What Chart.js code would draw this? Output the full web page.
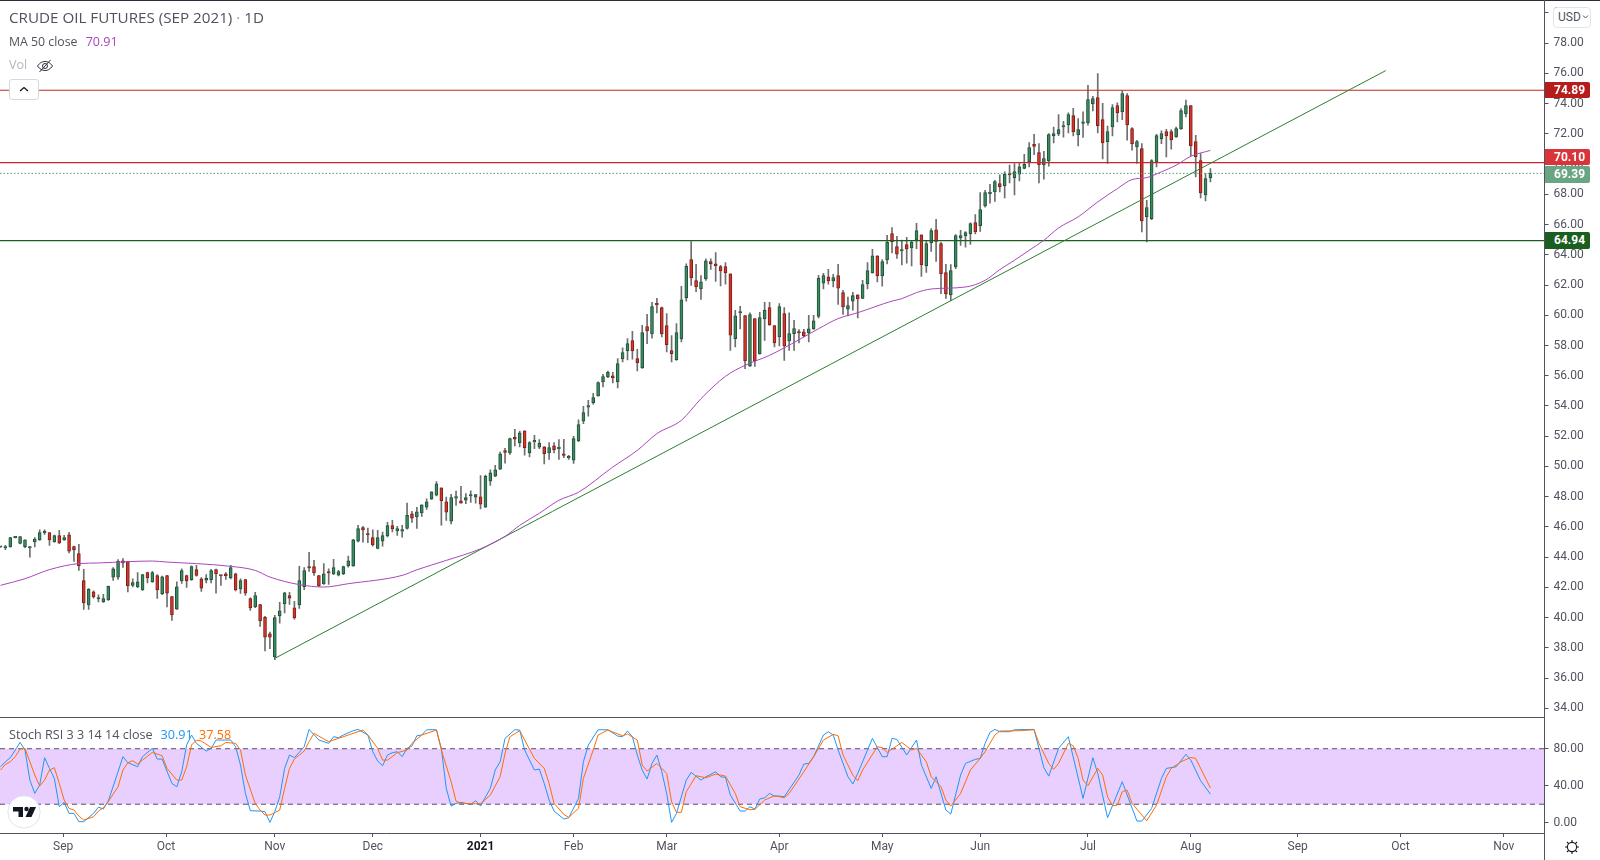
<!DOCTYPE html>
<html><head><meta charset="utf-8"><title>Crude Oil Futures</title>
<script src="https://cdn.jsdelivr.net/npm/chart.js@4/dist/chart.umd.min.js"></script>
<style>
html,body{margin:0;padding:0;background:#fff;width:1600px;height:860px;overflow:hidden;font-family:"Open Sans",sans-serif;}
canvas{position:absolute;left:0;display:block;}
.t{position:absolute;white-space:nowrap;line-height:1;color:#50535e;}
.line{position:absolute;background:#50535e;}
.tag{position:absolute;left:1545px;width:45px;height:16.500px;line-height:16.500px;color:#fff;font-weight:700;font-size:12px;font-family:Roboto,sans-serif;text-indent:9px;border-radius:0 2px 2px 0;}
</style></head><body>
<canvas id="main" style="top:0" width="1600" height="717"></canvas>
<canvas id="stoch" style="top:717px" width="1600" height="143"></canvas>
<div class="line" style="left:0;top:0;width:1600px;height:1px;background:#2a2e39"></div>
<div class="line" style="left:0;top:717px;width:1545px;height:1px"></div>
<div class="line" style="left:1544px;top:0;width:1px;height:860px"></div>
<div class="t" style="left:9px;top:10px;font-size:15.200px;">CRUDE OIL FUTURES (SEP 2021)<span style="color:#9598a1"> · </span>1D</div>
<div class="t" style="left:9px;top:36px;font-size:12.300px;">MA 50 close <span style="color:#ab47bc;margin-left:5px;font-size:12.600px">70.91</span></div>
<div class="t" style="left:9px;top:59px;font-size:12.600px;color:#b2b5be">Vol</div>
<svg style="position:absolute;left:36px;top:58px" width="18" height="16" viewBox="0 0 18 16" fill="none" stroke="#2a2e39" stroke-width="1"><path d="M1.500 8C4 4.500 6.500 3.500 9 3.500S14 4.500 16.500 8C14 11.500 11.500 12.500 9 12.500S4 11.500 1.500 8Z"/><circle cx="9" cy="8" r="2.500"/><path d="M3.500 14L14.500 2"/></svg>
<div style="position:absolute;left:9px;top:79px;width:28px;height:19px;background:#fff;border:1px solid #d6d8e0;border-radius:3px;"><svg style="position:absolute;left:9px;top:6px" width="10" height="7" fill="none" stroke="#131722" stroke-width="1.300"><path d="M1 5L5 1.500L9 5"/></svg></div>
<div style="position:absolute;left:1553px;top:7px;width:36px;height:19px;background:#fff;border:1px solid #e0e3eb;border-radius:4px;"></div>
<div class="t" style="left:1558px;top:11px;font-size:12px;font-family:Roboto,sans-serif">USD</div>
<svg style="position:absolute;left:1582px;top:14px" width="7" height="6" fill="none" stroke="#50535e" stroke-width="1"><path d="M1 1.500L3.500 4L6 1.500"/></svg>
<div class="t" style="left:9px;top:729px;font-size:12.600px;">Stoch RSI 3 3 14 14 close</div>
<div class="t" style="left:160.500px;top:729px;font-size:12.600px;color:#2196f3">30.91</div>
<div class="t" style="left:199px;top:729px;font-size:12.600px;color:#ff6d00">37.58</div>
<svg style="position:absolute;left:7px;top:795px" width="34" height="34" viewBox="0 0 34 34"><circle cx="17" cy="17" r="16.200" fill="#fff" stroke="#e0e3eb"/><path d="M6 12h10v10h-4.500v-5.500H6Z" fill="#131722"/><circle cx="19.500" cy="14" r="2.200" fill="#131722"/><path d="M23 12h6l-4.500 10H18.500Z" fill="#131722"/></svg>
<svg style="position:absolute;left:1564px;top:839px" width="16" height="16" viewBox="0 0 16 16" fill="none" stroke="#131722" stroke-width="1.100"><circle cx="8" cy="8" r="4.600"/><path d="M8 1v2.400M8 12.600V15M1 8h2.400M12.600 8H15M3 3l1.700 1.700M11.300 11.300L13 13M13 3l-1.700 1.700M4.700 11.300L3 13"/></svg>
<script>
const opens=[44.65,44.60,44.67,45.28,44.91,44.67,44.60,45.00,45.13,45.60,
45.62,45.00,45.42,45.13,45.48,44.69,44.23,42.44,40.83,41.71,
41.23,41.03,41.16,42.68,42.68,43.76,43.70,42.13,42.02,41.82,
42.97,42.35,42.77,41.56,42.77,41.38,40.56,42.42,42.77,42.51,
43.17,42.57,42.48,42.51,43.17,42.77,42.90,42.62,42.90,41.89,
42.51,41.25,40.70,40.85,40.01,38.93,37.39,40.10,40.90,41.45,
40.65,40.83,42.04,43.32,43.37,42.77,42.22,43.04,42.88,42.81,
42.88,43.41,43.41,45.06,45.95,45.55,45.29,44.58,45.06,45.40,
46.08,45.73,45.72,45.90,46.87,46.65,46.93,47.31,47.84,48.10,
48.59,47.66,46.38,47.90,47.73,47.77,48.04,47.97,47.99,47.31,
49.03,49.36,49.82,51.04,50.89,51.92,51.55,52.36,50.89,51.62,
51.28,51.30,50.89,51.37,51.18,50.84,50.56,50.42,51.68,53.00,
53.92,54.20,54.66,55.59,55.92,56.00,55.59,57.11,57.64,58.32,
57.13,56.51,59.25,58.76,60.73,60.51,59.32,57.66,57.07,58.43,
61.14,63.68,62.29,61.74,62.40,63.55,63.41,63.22,63.22,62.75,
58.45,60.15,59.98,56.64,59.78,57.44,59.76,60.51,59.32,58.57,
60.11,58.30,58.79,58.87,58.91,58.83,59.09,59.93,62.13,62.55,
62.27,62.62,61.50,60.41,60.94,61.36,61.12,62.07,62.80,63.94,
62.60,63.66,65.40,64.54,64.25,64.67,64.45,64.98,65.33,63.26,
64.78,65.66,64.74,62.82,61.34,63.20,65.11,65.25,65.40,66.13,
65.91,67.23,68.03,68.16,68.71,68.58,69.33,69.09,69.33,69.71,
70.15,71.31,70.76,69.95,70.21,71.87,72.00,72.46,72.60,73.21,
71.93,72.70,72.73,73.99,74.40,72.95,71.49,72.46,73.88,73.46,
74.54,72.35,71.14,71.03,66.51,66.40,70.15,71.67,72.15,72.15,
71.80,72.33,73.32,73.88,71.49,70.23,67.96,69.09];
const highs=[44.72,44.78,45.30,45.30,45.35,45.15,44.69,45.29,45.81,45.81,
45.62,45.46,45.77,45.44,45.64,44.73,44.85,43.19,41.91,41.76,
41.51,41.54,42.09,43.30,43.83,43.90,43.72,42.57,42.97,42.86,
43.01,43.06,42.84,42.75,42.79,41.40,42.37,43.23,42.81,43.43,
43.45,42.64,42.84,43.19,43.21,42.79,42.97,43.45,42.95,42.57,
42.53,41.31,41.67,40.87,40.08,39.04,40.15,41.00,41.67,41.67,
41.07,43.39,43.30,44.31,43.79,42.79,43.57,43.23,43.85,43.12,
43.41,44.07,45.17,46.10,46.04,45.92,45.81,45.77,45.66,46.30,
46.43,46.04,46.10,47.57,47.02,47.29,47.46,47.86,48.32,48.99,
48.59,47.97,48.15,48.37,48.68,48.21,48.39,48.15,49.40,49.42,
49.78,50.07,50.95,51.20,51.88,52.45,52.34,52.36,51.64,52.06,
51.77,51.32,51.57,51.57,51.77,51.79,50.73,51.99,53.09,53.98,
54.37,54.84,55.59,56.09,56.31,56.23,57.13,57.84,58.45,58.94,
57.75,59.34,60.07,60.86,61.12,60.55,60.11,58.65,59.45,61.91,
63.41,64.87,63.37,62.62,63.74,63.74,64.14,63.30,63.48,62.75,
60.33,60.59,59.98,60.17,59.78,60.20,60.86,60.86,59.32,60.77,
60.51,60.17,59.67,59.05,59.07,59.99,59.99,62.64,62.78,63.04,
62.71,63.37,61.65,61.21,61.52,61.36,62.31,63.48,64.36,63.94,
63.68,65.29,65.80,65.22,64.98,65.16,64.96,66.08,65.33,64.94,
65.73,66.35,64.83,63.37,63.35,65.34,65.62,65.53,66.11,66.66,
68.11,68.27,68.66,68.93,69.30,69.49,69.93,70.04,70.10,70.65,
71.43,71.98,71.36,70.85,72.02,72.46,73.28,72.84,73.39,73.70,
73.01,73.46,75.22,74.49,75.99,74.03,72.51,73.94,74.05,74.85,
74.67,72.42,71.58,71.36,67.61,70.30,71.98,72.20,72.31,72.29,
72.46,73.68,74.23,73.88,71.91,70.70,69.37,69.71];
const lows=[44.65,44.49,44.66,45.27,44.87,44.62,44.00,44.67,45.11,45.50,
44.78,44.98,44.89,45.11,44.27,43.72,43.12,40.54,40.54,41.29,
41.03,41.00,41.14,42.46,42.53,43.32,41.69,42.02,41.98,41.80,
42.29,42.33,41.27,41.51,40.70,39.81,40.54,42.26,42.00,42.46,
42.73,41.73,42.29,42.29,41.62,42.13,42.53,42.55,41.76,41.60,
41.47,40.48,40.65,39.42,37.79,37.94,37.21,39.62,40.30,40.87,
39.90,40.61,41.84,43.06,42.79,42.04,42.20,42.20,42.84,42.75,
42.84,43.34,43.39,45.00,44.98,44.95,44.73,44.54,44.73,45.33,
45.66,45.44,45.32,45.85,46.30,45.90,46.69,47.15,47.82,48.04,
46.12,46.43,46.19,47.42,47.57,47.53,47.62,47.57,47.18,47.29,
48.74,49.32,49.78,50.22,50.80,51.35,51.29,50.75,50.62,51.17,
51.17,50.16,50.47,50.89,50.47,50.58,50.47,50.20,51.64,52.83,
53.32,54.11,54.64,55.26,55.87,55.52,55.19,56.91,57.04,57.09,
56.31,56.49,58.12,58.48,60.15,58.57,57.57,56.91,57.02,58.23,
60.94,61.98,61.56,61.05,62.31,63.04,62.24,61.94,62.05,57.68,
57.90,59.09,56.47,56.62,56.62,57.42,58.34,59.33,57.90,57.97,
57.02,57.68,57.68,58.17,58.56,58.23,59.07,59.82,61.74,62.05,
61.87,60.72,60.06,59.95,60.33,59.82,61.10,61.74,62.78,62.20,
61.92,63.39,64.12,63.77,63.33,63.44,63.26,64.41,62.57,62.84,
64.23,63.57,61.43,61.12,60.97,63.09,64.63,64.50,64.69,65.38,
65.55,67.16,67.41,67.54,68.16,67.76,68.76,67.96,68.89,69.68,
69.82,70.63,68.76,69.00,69.86,71.40,71.89,71.78,72.07,71.87,
71.21,71.76,72.57,73.52,72.07,70.35,70.04,71.87,72.79,72.95,
71.58,70.92,70.04,65.51,64.85,66.33,69.82,71.36,70.48,70.99,
71.76,72.29,73.12,70.54,69.15,67.77,67.57,68.82];
const closes=[44.70,44.65,45.29,45.30,45.35,45.15,44.69,45.20,45.62,45.63,
45.13,45.42,44.93,45.29,44.40,44.47,43.41,40.96,41.87,41.36,
41.29,41.25,42.06,43.23,43.72,43.61,42.09,42.31,42.37,42.84,
42.62,42.97,41.82,42.70,41.62,40.17,42.04,43.10,42.42,43.37,
42.79,41.95,42.59,43.10,42.88,42.75,42.75,43.30,41.82,42.44,
41.62,40.63,41.45,39.77,38.71,38.71,39.99,40.45,41.64,41.29,
39.97,42.44,43.10,43.28,42.95,42.09,42.90,42.95,43.30,43.04,
43.37,43.76,45.15,45.88,45.79,45.46,44.80,45.29,45.42,46.08,
45.86,45.88,45.81,46.76,46.58,47.00,47.46,47.66,48.32,48.85,
47.71,46.98,47.93,47.99,47.57,47.93,48.13,48.13,47.51,49.34,
49.58,49.78,50.84,50.93,51.84,51.81,52.23,51.24,51.57,51.66,
51.55,50.84,51.24,51.09,51.24,50.73,50.64,51.84,52.76,53.56,
53.97,54.55,55.54,55.94,56.23,55.85,56.80,57.53,58.12,57.64,
56.84,58.85,58.96,60.57,60.69,58.76,58.06,57.46,58.85,61.03,
63.24,62.47,61.87,62.22,63.61,63.39,63.26,62.93,62.80,58.69,
59.97,60.22,56.98,60.04,56.98,59.84,60.33,59.36,58.17,60.57,
57.97,58.79,59.12,58.83,58.63,59.11,59.64,62.44,62.62,62.27,
62.49,61.80,60.55,60.64,61.30,61.08,62.03,62.95,63.94,62.60,
63.55,64.85,64.85,64.05,64.34,64.39,64.85,65.60,63.33,64.74,
65.60,64.89,62.73,61.41,62.95,65.27,65.27,65.47,66.06,65.51,
66.99,68.11,68.11,68.84,68.49,69.35,69.28,69.51,69.83,69.99,
71.10,71.18,69.95,70.37,71.96,72.02,72.28,72.55,73.28,72.13,
72.28,72.75,74.27,74.34,72.55,71.40,72.15,73.74,73.39,74.67,
72.60,71.34,71.49,66.24,67.12,70.23,71.89,72.02,71.87,71.60,
72.35,73.54,73.88,71.21,70.48,68.10,69.04,69.39];

const maBars=[0,5,10,16,20,26,31,34,40,47,52,55,61,66,71,82,85,91,98,103,106,110,114,118,125,130,134,139,143,148,152,157,163,167,171,175,182,184,187,190,197,201,204,207,210,213,216,220,224,228,231,234,237,240,243,247];
const maValues=[42.13,42.57,43.17,43.57,43.61,43.70,43.74,43.67,43.57,43.39,43.12,42.68,42.18,42.02,42.24,42.79,43.16,43.78,44.55,45.37,46.10,46.90,47.76,48.29,49.96,51.06,52.17,53.05,54.48,55.96,56.69,57.35,58.38,59.11,59.78,60.17,60.94,61.10,61.50,61.74,61.87,62.31,63.02,63.64,64.30,64.96,65.78,66.51,67.50,68.38,68.98,69.11,69.49,69.93,70.52,70.91];

const trendBars=[56,282.8];
const trendPrices=[37.3,76.19];
const redLevels=[74.89,70.10];
const greenLevel=64.94;
const lastPrice=69.39;
const tagValues=[64.94,69.39,70.10,74.89];
const priceTicks=[34,36,38,40,42,44,46,48,50,52,54,56,58,60,62,64,66,68,70,72,74,76,78,80];
const stochTicks=[0,40,80];
const monthBars=[12.8,33.8,56,76,98,117,136,159,180,200,222,243,264.8,285.8,306.9];
const monthLabels=['Sep','Oct','Nov','Dec','2021','Feb','Mar','Apr','May','Jun','Jul','Aug','Sep','Oct','Nov'];

const kBars=[0,1,2,4,5,6,7,8,9,10,11,12,13,14,15,16,17,19,20,21,22,24,25,26,28,29,31,32,33,35,36,37,38,39,40,42,43,44,46,47,48,49,50,51,53,54,55,56,57,58,59,60,62,63,65,67,68,69,70,72,73,75,76,77,78,79,80,81,82,83,84,85,86,87,89,90,91,92,93,94,96,97,98,100,101,102,103,105,106,107,109,110,111,112,
113,115,116,118,119,120,122,124,126,127,128,129,130,131,132,133,134,135,136,137,138,140,141,143,144,146,147,148,149,151,152,153,154,155,156,157,158,159,160,163,164,165,166,168,169,170,171,173,174,175,178,180,181,182,183,185,187,188,190,191,193,194,196,197,199,200,201,202,203,204,206,207,211,213,214,216,218,221,223,224,226,229,232,233,235,237,238,240,242,243,245,247];
const kValues=[60.5,65.9,70.3,86.8,78.6,46.1,31.7,40.7,70.3,58.7,47.9,17.3,22,10.1,10.1,1.1,1.1,10.1,16.9,14.8,23.4,55.1,71.4,64.9,60.5,71.4,80.4,68.8,68.8,42.5,38.9,55.1,84,94.8,85.8,77.5,80.4,89.4,89.4,89.4,82.2,62.3,31.7,13,12.6,11.9,0.4,11.9,28.1,58.7,73.2,70.3,82.2,100.9,89.4,85.8,93,91.9,94.8,99.5,100.9,94.8,76.8,66.7,61.6,73.2,75.7,76.8,71.4,80.4,82.9,94,94.8,100.5,100.5,80.4,37.1,18,20.9,22,19.8,23.8,18,37.1,57,65.9,91.2,100.5,100.2,78.6,57,58,42.5,24.5,
12.6,4,5.4,26.3,65.9,84,100.5,100.5,93.7,93,99.1,93,73.2,57,47.2,64.1,73.2,55.1,31.7,0.4,10.1,46.1,54.4,46.1,49.7,55.1,49.7,49,29.9,12.6,12.6,17.3,14.8,25.6,27,31.7,28.8,28.8,28.1,51.5,63.4,64.1,71.4,94.8,98.4,94.8,78.6,49.7,41.8,53.3,91.2,71.4,71.4,91.2,90.1,73.2,89.4,62.3,37.1,49.7,13.7,9.4,51.5,64.1,68.5,69.5,85.8,97.7,100.9,98.4,98.4,100.5,100.9,59.5,50.4,80.4,93,26.3,70.3,53.3,5.4,44.3,1.8,1.8,15.5,47.9,58.7,60.5,73.9,67.7,45.4,30.91];
const dBars=[0,1,2,3,4,5,6,7,8,9,10,11,12,13,14,15,16,17,19,20,21,22,24,25,26,27,28,29,31,33,34,36,37,38,39,40,41,43,45,46,48,49,50,52,53,54,55,57,58,59,60,62,63,64,67,69,71,74,75,77,78,79,81,83,84,86,89,90,92,93,94,97,98,100,102,103,104,106,107,109,111,112,
113,115,116,118,119,121,122,124,127,128,130,131,132,134,136,137,138,139,140,142,144,146,148,150,151,153,154,156,158,160,161,164,166,168,170,171,172,174,175,176,179,180,181,184,186,187,189,190,192,193,194,196,198,200,201,203,204,208,211,212,214,215,216,218,219,220,221,222,224,225,226,227,228,229,230,231,234,236,238,239,241,243,244,247];
const dValues=[57,63.1,65.9,71.4,79.6,80.4,65.9,51.5,39.6,46.1,57,59.5,42.5,24.5,15.5,13.7,7.2,2.9,6.5,12.6,16.2,22.7,38.9,57,64.9,67,63.4,67.7,76,72.4,58.7,46.1,46.1,60.5,84,89.4,88.3,81.4,83.2,86.8,85.8,78.6,51.5,20.9,13.7,8.3,8.3,13.7,37.1,58.7,68.8,77.5,87.6,96.6,87.6,91.2,94.8,100.2,94.8,80.4,67.7,67.7,75.7,78.6,85.8,94.8,100.2,78.6,44.3,23.4,20.9,20.5,20.5,29.9,49.7,75,93,99.5,89.4,69.5,58.7,42.5,
20.9,9,5.8,15.5,47.9,78.6,94.8,100.2,94,95.9,89.4,62.3,55.9,64.1,53.3,22.7,11.2,11.2,33.5,50.8,48.6,52.6,50.4,31.7,17.3,14,14.4,24.5,29.2,27,31.7,55.1,71.4,89.4,95.5,94,73.2,51.5,45.4,57,82.2,81.1,76,86.8,78.6,80.4,65.9,49.7,38.9,24.5,18,31.7,57,69.5,76.8,94.8,99.1,99.5,100.5,85.8,64.1,57.7,64.1,85.8,83.2,69.5,46.1,40,58.7,51.5,28.1,18.4,19.1,33.5,35.3,20.9,2.2,19.1,49.7,58.7,65.9,70.6,69.5,37.58];
const bandTop=80, bandBottom=20;

const axisColor='#50535e';
const xMin=-0.1, xMax=315.2;
const isUp=i=>closes[i]>=opens[i];
const pts=(xs,ys)=>xs.map((x,i)=>({x,y:ys[i]}));
const flat=v=>[{x:xMin,y:v},{x:xMax,y:v}];
const hline=(v,color,extra)=>Object.assign({type:'line',data:flat(v),borderColor:color,borderWidth:1.2,pointRadius:0,fill:false,order:3},extra||{});

const wicks=lows.map((l,i)=>({x:i,y:[l,highs[i]]}));
const bodies=opens.map((o,i)=>({x:i,y:[Math.min(o,closes[i]),Math.max(o,closes[i])]}));

const fixY=(ticks,width)=>({
  afterBuildTicks:s=>{s.ticks=ticks.map(value=>({value}));},
  afterFit:s=>{s.width=width;s.paddingTop=0;s.paddingBottom=0;}
});
const yAxis=(min,max,ticks)=>Object.assign({
  type:'linear',position:'right',min,max,
  border:{display:false},
  grid:{drawOnChartArea:false,drawTicks:true,tickLength:4,color:axisColor,tickWidth:1},
  ticks:{font:{family:'Roboto,sans-serif',size:12},color:axisColor,padding:5,autoSkip:false,callback:v=>Number(v).toFixed(2)}
},fixY(ticks,55.5));

const main=new Chart(document.getElementById('main'),{
  type:'bar',
  data:{datasets:[
    hline(redLevels[0],'#c62828'),
    hline(redLevels[1],'#c62828'),
    hline(greenLevel,'#1b5e20'),
    hline(lastPrice,'#4e9a73',{borderWidth:1,borderDash:[1.5,2]}),
    {type:'line',data:pts(trendBars,trendPrices),borderColor:'#2e7d32',borderWidth:1,pointRadius:0,fill:false,order:2},
    {type:'line',data:pts(maBars,maValues),borderColor:'#ab47bc',borderWidth:1,pointRadius:0,fill:false,cubicInterpolationMode:'monotone',order:1},
    {type:'bar',data:wicks,backgroundColor:'#6e6e6e',barThickness:1,grouped:false,order:6},
    {type:'bar',data:bodies,barThickness:3,grouped:false,order:5,minBarLength:1.5,borderWidth:1,borderSkipped:false,
      backgroundColor:c=>isUp(c.dataIndex)?'#3b8a63':'#d5362c',
      borderColor:c=>isUp(c.dataIndex)?'#1f5236':'#7c1f18'}
  ]},
  options:{
    responsive:false,animation:false,devicePixelRatio:1,events:[],
    layout:{padding:0},
    plugins:{legend:{display:false},tooltip:{enabled:false}},
    scales:{
      x:{type:'linear',min:xMin,max:xMax,offset:false,display:false,grid:{display:false}},
      y:yAxis(33.42,80.86,priceTicks)
    }
  }
});

const stoch=new Chart(document.getElementById('stoch'),{
  type:'line',
  data:{datasets:[
    {data:flat(bandTop),borderColor:'#55506e',borderWidth:1,borderDash:[5,4],pointRadius:0,fill:'+1',backgroundColor:'#e9cffd',order:4},
    {data:flat(bandBottom),borderColor:'#55506e',borderWidth:1,borderDash:[5,4],pointRadius:0,fill:false,order:3},
    {data:pts(kBars,kValues),borderColor:'#2196f3',borderWidth:1,pointRadius:0,fill:false,order:2},
    {data:pts(dBars,dValues),borderColor:'#ff6d00',borderWidth:1,pointRadius:0,fill:false,order:1}
  ]},
  options:{
    responsive:false,animation:false,devicePixelRatio:1,events:[],
    layout:{padding:0},
    plugins:{legend:{display:false},tooltip:{enabled:false}},
    scales:{
      x:{type:'linear',min:xMin,max:xMax,offset:false,position:'bottom',
        border:{display:true,color:axisColor},
        grid:{drawOnChartArea:false,drawTicks:true,tickLength:4,color:axisColor},
        afterBuildTicks:s=>{s.ticks=monthBars.map(value=>({value}));},
        afterFit:s=>{s.height=27;s.paddingLeft=0;s.paddingRight=0;},
        ticks:{autoSkip:false,maxRotation:0,minRotation:0,padding:3,
          font:c=>({family:'Roboto,sans-serif',size:12,weight:c.index===4?'bold':'normal'}),
          color:c=>c.index===4?'#131722':axisColor,
          callback:v=>monthLabels[monthBars.indexOf(v)]}
      },
      y:yAxis(-11.1,114.3,stochTicks)
    }
  }
});

const tagColors={'74.89':'#b71c1c','70.1':'#d8343a','69.39':'#6aa583','64.94':'#1b5e20'};
const tagNudge={'70.1':-5.400,'69.39':1};
tagValues.forEach(v=>{
  const d=document.createElement('div');
  d.className='tag';d.textContent=v.toFixed(2);
  d.style.background=tagColors[String(v)];
  d.style.top=(main.scales.y.getPixelForValue(v)-8.25+(tagNudge[String(v)]||0))+'px';
  document.body.appendChild(d);
});
</script>
</body></html>
